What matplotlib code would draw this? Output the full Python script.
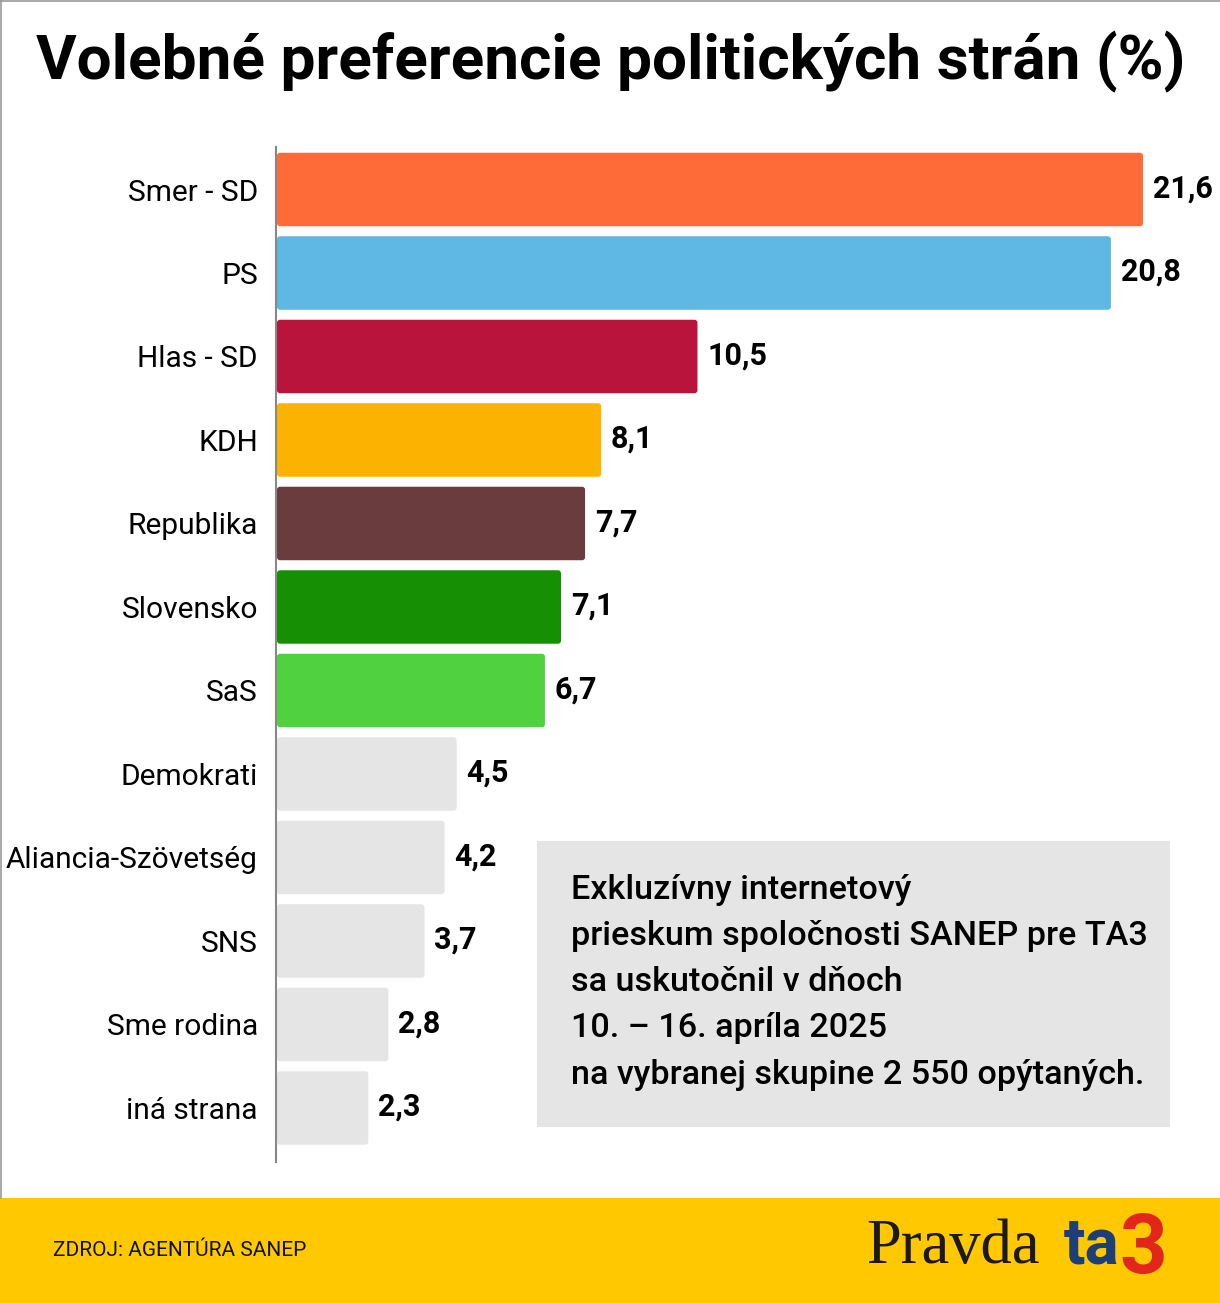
import matplotlib
matplotlib.use("Agg")
import matplotlib.pyplot as plt
from matplotlib.patches import Rectangle, FancyBboxPatch

parties = ["Smer - SD", "PS", "Hlas - SD", "KDH", "Republika", "Slovensko", "SaS",
           "Demokrati", "Aliancia-Szövetség", "SNS", "Sme rodina", "iná strana"]
values = [21.6, 20.8, 10.5, 8.1, 7.7, 7.1, 6.7, 4.5, 4.2, 3.7, 2.8, 2.3]
colors = ["#FF6B38", "#5FB7E3", "#B8143C", "#FBB200", "#6B3C3E", "#168F04", "#50D240",
          "#E5E5E5", "#E5E5E5", "#E5E5E5", "#E5E5E5", "#E5E5E5"]
value_labels = ["21,6", "20,8", "10,5", "8,1", "7,7", "7,1", "6,7", "4,5", "4,2", "3,7", "2,8", "2,3"]

title = "Volebné preferencie politických strán (%)"
note_lines = ["Exkluzívny internetový",
              "prieskum spoločnosti SANEP pre TA3",
              "sa uskutočnil v dňoch",
              "10. – 16. apríla 2025",
              "na vybranej skupine 2 550 opýtaných."]
source = "ZDROJ: AGENTÚRA SANEP"

W, H = 1220, 1303
fig = plt.figure(figsize=(W / 100, H / 100), dpi=100)
fig.patch.set_facecolor("white")

def fx(px):
    return px / W

def fy(py):
    return 1 - py / H

# plot axes
ax_left, ax_top, ax_bot = 276, 147, 1162
ax = fig.add_axes([fx(ax_left), fy(ax_bot), fx(W - ax_left), (ax_bot - ax_top) / H])
ypos = list(range(len(parties)))
bars = ax.barh(ypos, values, height=0.88, color=colors, zorder=2)
ax.set_xlim(0, (W - ax_left) / 40.14)
ax.set_ylim(len(parties) - 1 + 0.647, -0.509)
# rounded corners: replace each bar by a rounded box of identical geometry
px_x = 1 / 40.14
px_y = (len(parties) - 1 + 0.647 + 0.509) / (ax_bot - ax_top)
for b in bars:
    b.set_visible(False)
    x0, y0, w, h = b.get_x(), b.get_y(), b.get_width(), b.get_height()
    fb = FancyBboxPatch((x0 + px_x, y0), w - px_x, h,
                        boxstyle="round,pad=0,rounding_size=%f" % (3 * px_x),
                        mutation_aspect=px_y / px_x,
                        facecolor=b.get_facecolor(), edgecolor="none", zorder=2)
    ax.add_patch(fb)
for s in ["top", "right", "bottom"]:
    ax.spines[s].set_visible(False)
ax.spines["left"].set_color("#888888")
ax.spines["left"].set_linewidth(1.5)
ax.set_xticks([])
ax.set_yticks(ypos)
ax.set_yticklabels(parties, fontsize=21.5, family="Roboto")
ax.tick_params(axis="y", length=0, pad=13)
for y, v, lab in zip(ypos, values, value_labels):
    ax.annotate(lab, (v, y), xytext=(7, 1), textcoords="offset points",
                ha="left", va="center", fontsize=22, fontweight="bold", family="Roboto")

# title
fig.text(fx(611), fy(62), title, ha="center", va="center", fontsize=44.7,
         fontweight="bold", family="Roboto")

# note box
fig.patches.append(Rectangle((fx(537), fy(1127)), fx(1170 - 537), (1127 - 841) / H,
                             transform=fig.transFigure, facecolor="#E5E5E5",
                             edgecolor="none", zorder=1))
line_y = [890, 936, 982, 1028, 1075]
for ly, t in zip(line_y, note_lines):
    fig.text(fx(571), fy(ly), t, ha="left", va="center", fontsize=24.6,
             fontweight="medium", family="Roboto", zorder=3)

# footer
fig.patches.append(Rectangle((0, 0), 1, (H - 1198) / H, transform=fig.transFigure,
                             facecolor="#FFC800", edgecolor="none", zorder=1))
fig.text(fx(53), fy(1251), source, ha="left", va="center", fontsize=15,
         family="Roboto", zorder=3, color="#111111")
fig.text(fx(866), fy(1248), "Pravda", ha="left", va="center", fontsize=45,
         family="Liberation Serif", color="#1a1a1a", zorder=3)
t1 = fig.text(fx(1064), fy(1246), "ta", ha="left", va="center", fontsize=46,
              fontweight="bold", family="Roboto", color="#1D3F78", zorder=3)
fig.canvas.draw()
bb = t1.get_window_extent()
fig.text(bb.x1 / W, fy(1251), "3", ha="left", va="center", fontsize=60,
         fontweight="bold", family="Roboto", color="#E2261C", zorder=3)

# thin border left and top
fig.add_artist(plt.Line2D([fx(0.5), fx(0.5)], [fy(0), fy(1198)], transform=fig.transFigure,
                          color="#999999", lw=1.2))
fig.add_artist(plt.Line2D([0, 1], [fy(0.5), fy(0.5)], transform=fig.transFigure,
                          color="#999999", lw=1.2))

fig.savefig("out.png", dpi=100)
